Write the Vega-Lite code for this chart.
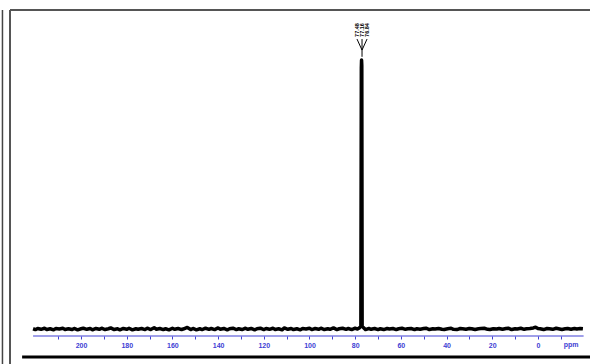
{
  "$schema": "https://vega.github.io/schema/vega-lite/v6.json",
  "autosize": {"type": "none"},
  "padding": {"left": 10, "top": 10, "right": 0, "bottom": 0},
  "width": 580,
  "height": 354,
  "background": "white",
  "view": {"stroke": null},
  "datasets": {
    "spectrum": [
      {"ppm": 221, "i": 0.1}, {"ppm": 220, "i": -0.2}, {"ppm": 219, "i": 0.2}, {"ppm": 217.5, "i": -0.1}, {"ppm": 216, "i": 0.3}, {"ppm": 215, "i": -0.2},
      {"ppm": 213.5, "i": 0.1}, {"ppm": 212, "i": -0.3}, {"ppm": 211, "i": 0.2}, {"ppm": 209.5, "i": 0.0}, {"ppm": 208, "i": 0.3}, {"ppm": 207, "i": -0.2},
      {"ppm": 205.5, "i": 0.1}, {"ppm": 204, "i": -0.2}, {"ppm": 203, "i": 0.2}, {"ppm": 201.5, "i": -0.3}, {"ppm": 200, "i": 0.1}, {"ppm": 199, "i": 0.3},
      {"ppm": 197.5, "i": -0.1}, {"ppm": 196, "i": 0.2}, {"ppm": 195, "i": -0.3}, {"ppm": 193.5, "i": 0.2}, {"ppm": 192, "i": -0.1}, {"ppm": 191, "i": 0.3},
      {"ppm": 189.5, "i": -0.2}, {"ppm": 188, "i": 0.1}, {"ppm": 187, "i": 0.4}, {"ppm": 185.5, "i": -0.2}, {"ppm": 184, "i": 0.1}, {"ppm": 183, "i": -0.3},
      {"ppm": 181.5, "i": 0.2}, {"ppm": 180, "i": -0.1}, {"ppm": 179, "i": 0.3}, {"ppm": 177.5, "i": -0.3}, {"ppm": 176, "i": 0.1}, {"ppm": 175, "i": -0.1},
      {"ppm": 173.5, "i": 0.2}, {"ppm": 172, "i": -0.2}, {"ppm": 171, "i": 0.3}, {"ppm": 169.5, "i": -0.2}, {"ppm": 168, "i": 0.5}, {"ppm": 167, "i": -0.1},
      {"ppm": 165.5, "i": 0.2}, {"ppm": 164, "i": -0.2}, {"ppm": 163, "i": 0.1}, {"ppm": 161.5, "i": -0.3}, {"ppm": 160, "i": 0.3}, {"ppm": 159, "i": -0.1},
      {"ppm": 157.5, "i": 0.2}, {"ppm": 156, "i": -0.2}, {"ppm": 155, "i": 0.1}, {"ppm": 153.5, "i": 0.6}, {"ppm": 152, "i": -0.2}, {"ppm": 151, "i": 0.2},
      {"ppm": 149.5, "i": -0.3}, {"ppm": 148, "i": 0.1}, {"ppm": 147, "i": -0.2}, {"ppm": 145.5, "i": 0.3}, {"ppm": 144, "i": -0.1}, {"ppm": 143, "i": 0.2},
      {"ppm": 141.5, "i": -0.2}, {"ppm": 140, "i": 0.4}, {"ppm": 139, "i": -0.1}, {"ppm": 137.5, "i": 0.2}, {"ppm": 136, "i": -0.3}, {"ppm": 135, "i": 0.1},
      {"ppm": 133.5, "i": 0.3}, {"ppm": 132, "i": -0.2}, {"ppm": 131, "i": 0.1}, {"ppm": 129.5, "i": -0.2}, {"ppm": 128, "i": 0.3}, {"ppm": 127, "i": -0.1},
      {"ppm": 125.5, "i": 0.2}, {"ppm": 124, "i": -0.3}, {"ppm": 123, "i": 0.1}, {"ppm": 121.5, "i": 0.3}, {"ppm": 120, "i": -0.2}, {"ppm": 119, "i": 0.2},
      {"ppm": 117.5, "i": -0.1}, {"ppm": 116, "i": 0.3}, {"ppm": 115, "i": -0.2}, {"ppm": 113.5, "i": 0.1}, {"ppm": 112, "i": -0.3}, {"ppm": 111, "i": 0.4},
      {"ppm": 109.5, "i": -0.1}, {"ppm": 108, "i": 0.2}, {"ppm": 107, "i": -0.2}, {"ppm": 105.5, "i": 0.1}, {"ppm": 104, "i": -0.3}, {"ppm": 103, "i": 0.2},
      {"ppm": 101.5, "i": 0.0}, {"ppm": 100, "i": 0.3}, {"ppm": 99, "i": -0.2}, {"ppm": 97.5, "i": 0.2}, {"ppm": 96, "i": -0.1}, {"ppm": 95, "i": 0.3},
      {"ppm": 93.5, "i": -0.2}, {"ppm": 92, "i": 0.1}, {"ppm": 91, "i": -0.1}, {"ppm": 89.5, "i": 0.4}, {"ppm": 88, "i": -0.2}, {"ppm": 87, "i": 0.1},
      {"ppm": 85.5, "i": 0.3}, {"ppm": 84, "i": -0.1}, {"ppm": 83, "i": 0.2}, {"ppm": 81.5, "i": -0.2}, {"ppm": 80, "i": 0.3}, {"ppm": 79, "i": 0.0},
      {"ppm": 78.2, "i": 0.4}, {"ppm": 77.5, "i": 1.0}, {"ppm": 77.3, "i": 97}, {"ppm": 77.2, "i": 100}, {"ppm": 77.1, "i": 98},
      {"ppm": 76.95, "i": 1.0}, {"ppm": 76.2, "i": 0.4}, {"ppm": 75.5, "i": -0.2},
      {"ppm": 74, "i": 0.2}, {"ppm": 73, "i": -0.1}, {"ppm": 71.5, "i": 0.2}, {"ppm": 70, "i": -0.2}, {"ppm": 69, "i": 0.1}, {"ppm": 67.5, "i": -0.2},
      {"ppm": 66, "i": 0.2}, {"ppm": 65, "i": 0.0}, {"ppm": 63.5, "i": 0.2}, {"ppm": 62, "i": -0.2}, {"ppm": 61, "i": 0.1}, {"ppm": 59.5, "i": 0.3},
      {"ppm": 58, "i": -0.1}, {"ppm": 57, "i": 0.1}, {"ppm": 55.5, "i": 0.2}, {"ppm": 54, "i": -0.2}, {"ppm": 53, "i": 0.1}, {"ppm": 51.5, "i": -0.1},
      {"ppm": 50, "i": 0.2}, {"ppm": 49, "i": 0.3}, {"ppm": 47.5, "i": -0.2}, {"ppm": 46, "i": 0.1}, {"ppm": 45, "i": 0.0}, {"ppm": 43.5, "i": 0.2},
      {"ppm": 42, "i": -0.1}, {"ppm": 41, "i": -0.2}, {"ppm": 39.5, "i": 0.1}, {"ppm": 38, "i": 0.3}, {"ppm": 37, "i": -0.1}, {"ppm": 35.5, "i": -0.2},
      {"ppm": 34, "i": 0.2}, {"ppm": 33, "i": 0.1}, {"ppm": 31.5, "i": -0.1}, {"ppm": 30, "i": 0.2}, {"ppm": 29, "i": 0.1}, {"ppm": 27.5, "i": -0.2},
      {"ppm": 26, "i": 0.1}, {"ppm": 25, "i": 0.2}, {"ppm": 23.5, "i": 0.3}, {"ppm": 22, "i": -0.1}, {"ppm": 21, "i": -0.2}, {"ppm": 19.5, "i": 0.1},
      {"ppm": 18, "i": 0.0}, {"ppm": 17, "i": 0.2}, {"ppm": 15.5, "i": -0.1}, {"ppm": 14, "i": 0.2}, {"ppm": 13, "i": 0.3}, {"ppm": 11.5, "i": -0.2},
      {"ppm": 10, "i": 0.1}, {"ppm": 9, "i": 0.0}, {"ppm": 7.5, "i": 0.3}, {"ppm": 6, "i": -0.1}, {"ppm": 5, "i": 0.1}, {"ppm": 3.5, "i": 0.2},
      {"ppm": 2, "i": 0.4}, {"ppm": 1, "i": 0.7}, {"ppm": 0, "i": 0.2}, {"ppm": -1, "i": 0.1}, {"ppm": -2.5, "i": -0.2}, {"ppm": -4, "i": 0.2},
      {"ppm": -5, "i": 0.1}, {"ppm": -6.5, "i": -0.1}, {"ppm": -8, "i": 0.3}, {"ppm": -9, "i": 0.1}, {"ppm": -10.5, "i": -0.2}, {"ppm": -12, "i": 0.1},
      {"ppm": -13, "i": 0.2}, {"ppm": -14.5, "i": -0.1}, {"ppm": -16, "i": 0.2}, {"ppm": -17, "i": 0.0}, {"ppm": -18.5, "i": 0.2}, {"ppm": -19.7, "i": 0.1}
    ],
    "labels": [
      {"lx": 79.2, "label": "77.48"},
      {"lx": 77.0, "label": "77.16"},
      {"lx": 74.8, "label": "76.84"}
    ],
    "fan": [
      {"lx": 79.2, "ly": 107.8, "cx": 77.0, "cy": 103.7},
      {"lx": 77.0, "ly": 107.8, "cx": 77.0, "cy": 103.7},
      {"lx": 74.8, "ly": 107.8, "cx": 77.0, "cy": 103.7},
      {"lx": 77.0, "ly": 103.7, "cx": 77.0, "cy": 101.2}
    ],
    "axisline": [{"x1": 221, "x2": -20, "y": -2.6}],
    "unit": [{"x": -14.5, "y": -5.9, "t": "ppm"}],
    "topframe": [{"x1": 231.1, "x2": -22.8, "y": 118.6}],
    "innerleft": [{"x": 231.1, "y1": 118.6, "y2": -13}],
    "outerleft": [{"x": 234.4, "y1": 118.6, "y2": -13}],
    "bottomline": [{"x1": 225.8, "x2": -22.8, "y": -10.4}]
  },
  "layer": [
    {
      "data": {"name": "axisline"},
      "mark": {"type": "rule", "color": "#4040d4", "strokeWidth": 1.2},
      "encoding": {
        "x": {
          "field": "x1", "type": "quantitative",
          "scale": {"domain": [231.1, -22.8], "nice": false, "zero": false},
          "axis": {
            "orient": "bottom", "offset": -28, "domain": false, "grid": false, "title": null,
            "tickCount": 100,
            "values": [-10, 0, 10, 20, 30, 40, 50, 60, 70, 80, 90, 100, 110, 120, 130, 140, 150, 160, 170, 180, 190, 200, 210],
            "labelExpr": "datum.value % 20 == 0 ? datum.label : ''",
            "tickColor": "#4040d4", "tickSize": 3, "tickWidth": 1,
            "labelColor": "#4040d4", "labelFont": "Liberation Sans", "labelFontSize": 7, "labelFontWeight": "bold",
            "labelPadding": 2, "labelFlush": false, "labelOverlap": false
          }
        },
        "x2": {"field": "x2"},
        "y": {"field": "y", "type": "quantitative", "scale": {"domain": [-13, 118.6], "nice": false, "zero": false}, "axis": null}
      }
    },
    {
      "data": {"name": "topframe"},
      "mark": {"type": "rule", "color": "#555555", "strokeWidth": 2, "clip": false},
      "encoding": {
        "x": {"field": "x1", "type": "quantitative"},
        "x2": {"field": "x2"},
        "y": {"field": "y", "type": "quantitative"}
      }
    },
    {
      "data": {"name": "innerleft"},
      "mark": {"type": "rule", "color": "#555555", "strokeWidth": 2, "clip": false},
      "encoding": {
        "x": {"field": "x", "type": "quantitative"},
        "y": {"field": "y1", "type": "quantitative"},
        "y2": {"field": "y2"}
      }
    },
    {
      "data": {"name": "outerleft"},
      "mark": {"type": "rule", "color": "#444444", "strokeWidth": 1.5, "clip": false},
      "encoding": {
        "x": {"field": "x", "type": "quantitative"},
        "y": {"field": "y1", "type": "quantitative"},
        "y2": {"field": "y2"}
      }
    },
    {
      "data": {"name": "bottomline"},
      "mark": {"type": "rule", "color": "#000000", "strokeWidth": 3, "clip": false},
      "encoding": {
        "x": {"field": "x1", "type": "quantitative"},
        "x2": {"field": "x2"},
        "y": {"field": "y", "type": "quantitative"}
      }
    },
    {
      "data": {"name": "unit"},
      "mark": {"type": "text", "color": "#4040d4", "font": "Liberation Sans", "fontSize": 7, "fontWeight": "bold", "align": "center", "baseline": "middle"},
      "encoding": {
        "x": {"field": "x", "type": "quantitative"},
        "y": {"field": "y", "type": "quantitative"},
        "text": {"field": "t"}
      }
    },
    {
      "data": {"name": "spectrum"},
      "mark": {"type": "line", "color": "#000000", "strokeWidth": 3.5, "strokeJoin": "round"},
      "encoding": {
        "x": {"field": "ppm", "type": "quantitative"},
        "y": {"field": "i", "type": "quantitative"}
      }
    },
    {
      "data": {"name": "fan"},
      "mark": {"type": "rule", "color": "#000000", "strokeWidth": 1},
      "encoding": {
        "x": {"field": "lx", "type": "quantitative"},
        "y": {"field": "ly", "type": "quantitative"},
        "x2": {"field": "cx"},
        "y2": {"field": "cy"}
      }
    },
    {
      "data": {"name": "labels"},
      "mark": {"type": "text", "angle": 270, "align": "left", "baseline": "middle", "font": "Liberation Sans", "fontSize": 5.5, "fontWeight": "bold", "color": "#000000"},
      "encoding": {
        "x": {"field": "lx", "type": "quantitative"},
        "y": {"datum": 108.6, "type": "quantitative"},
        "text": {"field": "label"}
      }
    }
  ]
}
